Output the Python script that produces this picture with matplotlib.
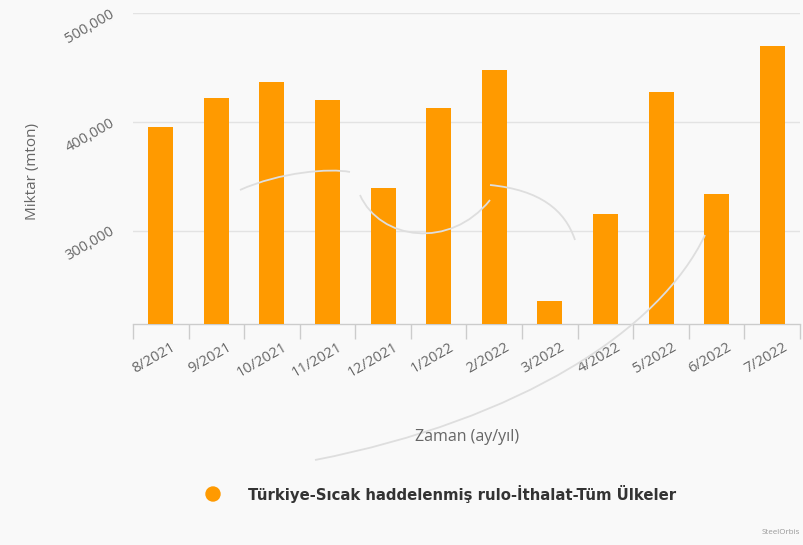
import matplotlib
matplotlib.use("Agg")
import matplotlib.pyplot as plt
import matplotlib.transforms as mtrans
from matplotlib.path import Path
from matplotlib.patches import PathPatch, Ellipse
import numpy as np

categories = ["8/2021", "9/2021", "10/2021", "11/2021", "12/2021", "1/2022",
              "2/2022", "3/2022", "4/2022", "5/2022", "6/2022", "7/2022"]
values = [395200, 421700, 436400, 420100, 339000, 412700,
          447700, 235500, 315300, 427700, 334000, 470100]
yticks = [300000, 400000, 500000]
ytick_labels = ["300,000", "400,000", "500,000"]
series_name = "Türkiye-Sıcak haddelenmiş rulo-İthalat-Tüm Ülkeler"

BG = "#f9f9f9"
BAR = "#ff9a00"
TXT = "#666666"
W, H = 804, 545

fig = plt.figure(figsize=(8.04, 5.45), dpi=100, facecolor=BG)

# faint decorative watermark swooshes (figure pixel coords, y from top)
def fpath(pts, codes):
    verts = [(px / W, 1 - py / H) for px, py in pts]
    return PathPatch(Path(verts, codes), transform=fig.transFigure, fill=False,
                     edgecolor="#dedede", linewidth=1.3, zorder=0)

C4 = Path.CURVE4
fig.patches.append(fpath([(240, 190), (280, 172), (330, 168), (350, 172)],
                         [Path.MOVETO, C4, C4, C4]))
fig.patches.append(fpath([(360, 195), (380, 240), (450, 250), (490, 200)],
                         [Path.MOVETO, C4, C4, C4]))
fig.patches.append(fpath([(490, 185), (540, 190), (565, 210), (575, 240)],
                         [Path.MOVETO, C4, C4, C4]))
fig.patches.append(fpath([(315, 460), (520, 420), (660, 330), (705, 235)],
                         [Path.MOVETO, C4, C4, C4]))

ax = fig.add_axes([133 / W, 1 - 324 / H, (800 - 133) / W, (324 - 13.3) / H])
ax.set_facecolor("none")

x = np.arange(len(categories))
ax.bar(x, values, width=0.45, color=BAR, zorder=3)

ax.set_xlim(-0.5, len(categories) - 0.5)
ax.set_ylim(214000, 500000)

ax.set_yticks(yticks)
ax.set_yticklabels(ytick_labels, fontfamily="Open Sans", fontsize=10.5, color=TXT,
                   rotation=30, rotation_mode="anchor", ha="right", va="center")
ax.tick_params(axis="y", length=0, pad=14)
ax.yaxis.grid(True, color="#e3e3e3", linewidth=1, zorder=0)
ax.set_axisbelow(True)

# category boundary ticks
ax.set_xticks(np.arange(-0.5, len(categories)), minor=True)
ax.tick_params(axis="x", which="minor", length=11, width=1, color="#cccccc")
ax.set_xticks(x)
ax.set_xticklabels(categories, fontfamily="Open Sans", fontsize=10.5, color=TXT,
                   rotation=30, rotation_mode="anchor", ha="right", va="center")
ax.tick_params(axis="x", which="major", length=0, pad=16)
off = mtrans.ScaledTranslation(14 / 100, 0, fig.dpi_scale_trans)
for lab in ax.get_xticklabels():
    lab.set_transform(lab.get_transform() + off)

for s in ["top", "right", "left"]:
    ax.spines[s].set_visible(False)
ax.spines["bottom"].set_color("#cccccc")
ax.spines["bottom"].set_linewidth(1)

fig.text(33 / W, 1 - 172 / H, "Miktar (mton)", rotation=90, ha="center", va="center",
         fontfamily="Open Sans", fontsize=11, color=TXT)
fig.text(467 / W, 1 - 437 / H, "Zaman (ay/yıl)", ha="center", va="center",
         fontfamily="Open Sans", fontsize=11.5, color=TXT)

# legend
fig.patches.append(Ellipse((213 / W, 1 - 494 / H), 14 / W, 14 / H,
                           transform=fig.transFigure, color=BAR))
fig.text(248 / W, 1 - 494 / H, series_name, ha="left", va="center",
         fontfamily="DejaVu Sans", fontweight="bold", fontsize=10.7, color="#333333")
fig.text(800 / W, 1 - 532 / H, "SteelOrbis", ha="right", va="center",
         fontfamily="Open Sans", fontsize=5.8, color="#999999")

fig.savefig("out.png", dpi=100, facecolor=BG)
